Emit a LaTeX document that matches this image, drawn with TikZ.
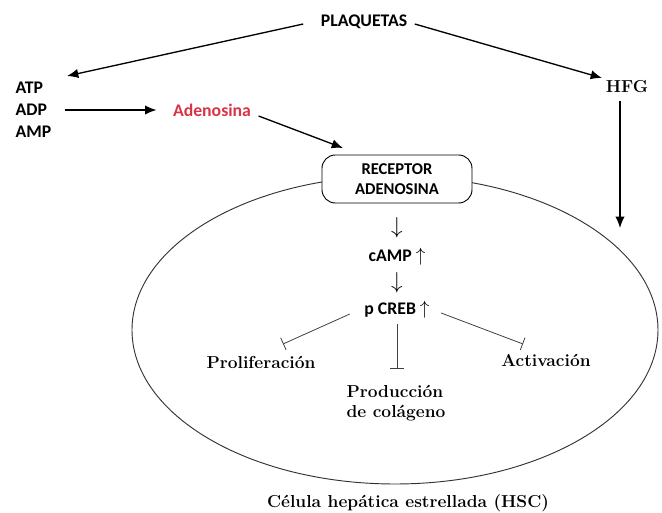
\documentclass[tikz,border=0pt]{standalone}
\usepackage{fontspec}
\newfontfamily\calibri{Carlito}
\usetikzlibrary{shapes,arrows,arrows.meta}
\definecolor{adenored}{RGB}{216,52,70}
\tikzstyle{etiq} = [font=\calibri\bfseries\fontsize{13.3}{15}\selectfont, inner sep=1pt]
\tikzstyle{texto} = [font=\bfseries\fontsize{13}{15.5}\selectfont, inner sep=1pt]
\tikzstyle{flechita} = [font=\fontsize{17}{17}\selectfont, inner sep=0pt]
\tikzstyle{flecha} = [-{Latex[length=8.5pt,width=7pt]}, line width=1pt]
\tikzstyle{inhibe} = [-{Bar[width=10pt]}, line width=0.6pt, draw=black!75]
\tikzstyle{receptor} = [draw, fill=white, rectangle, rounded corners=10pt,
    minimum width=112.5pt, minimum height=36pt, align=center, line width=0.7pt,
    font=\calibri\bfseries\fontsize{12.4}{15}\selectfont]

\begin{document}
\begin{tikzpicture}[x=0.75pt,y=-0.75pt]
\useasboundingbox (0,0) rectangle (662,513);

% celula
\draw[line width=0.7pt, black!80] (395,330) ellipse [x radius=263, y radius=154];

\node[etiq] (plaq) at (364,22) {PLAQUETAS};
\node[etiq, anchor=west] (atp) at (14,88) {ATP};
\node[etiq, anchor=west] (adp) at (14,110) {ADP};
\node[etiq, anchor=west] (amp) at (14,132) {AMP};
\node[etiq, text=adenored] (adenos) at (212,110) {Adenosina};
\node[texto] (hfg) at (627,87) {HFG};

\node[receptor] (recep) at (397,179) {RECEPTOR\\ADENOSINA};

\node[flechita] (flecha1) at (397,228) {$\downarrow$};
\node[etiq] (camp) at (397,257) {cAMP $\uparrow$};
\node[flechita] (flecha2) at (397,283) {$\downarrow$};
\node[etiq] (pcreb) at (397,310) {p CREB $\uparrow$};

\node[texto] (prolif) at (261,362) {Proliferación};
\node[texto, align=left] (produc) at (396,403) {Producción\\de colágeno};
\node[texto] (activ) at (546,360) {Activación};

\node[texto] (hsc) at (408,503) {Célula hepática estrellada (HSC)};

\coordinate (tipATP) at (67,76);
\coordinate (tipHFG) at (602,78);
\coordinate (tipRec) at (343,148);
\coordinate (tipCel) at (620,228);
\coordinate (barP) at (283,344);
\coordinate (barC) at (397,369);
\coordinate (barA) at (523,344);

\draw[flecha] ([shift={(-16,2)}]plaq.west) -- (tipATP);
\draw[flecha] ([shift={(6,2)}]plaq.east) -- (tipHFG);
\draw[flecha] ([shift={(16,0)}]adp.east) -- ([shift={(-15,0)}]adenos.west);
\draw[flecha] ([shift={(6,6)}]adenos.east) -- (tipRec);
\draw[flecha] ([shift={(0,6)}]hfg.south -| tipCel) -- (tipCel);

\draw[inhibe] ([shift={(-13,4)}]pcreb.west) -- (barP);
\draw[inhibe] ([shift={(0,4)}]pcreb.south) -- (barC);
\draw[inhibe] ([shift={(10,3)}]pcreb.east) -- (barA);

\end{tikzpicture}
\end{document}
